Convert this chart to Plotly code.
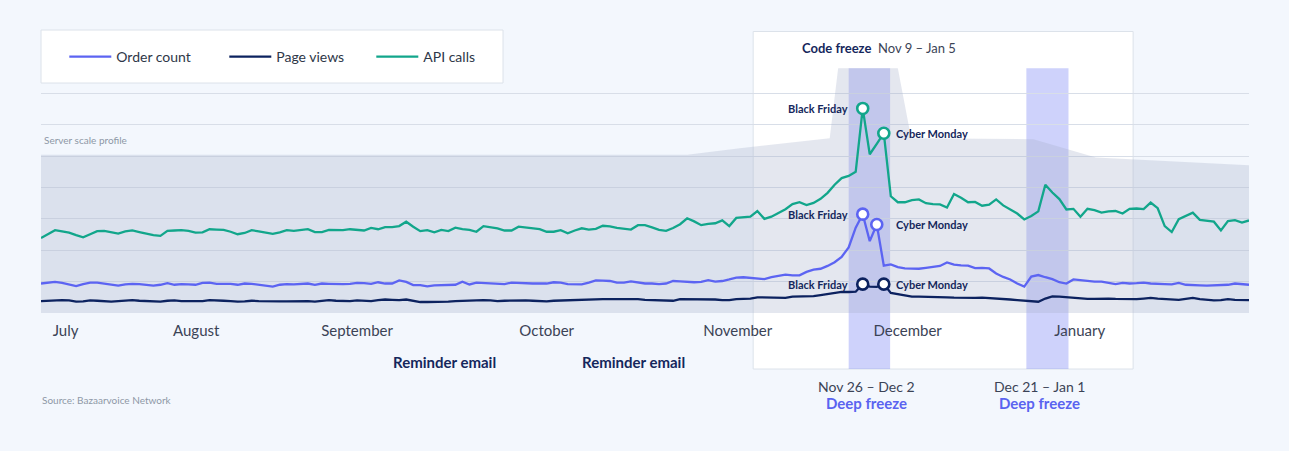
import plotly.graph_objects as go

# ---------------- data ----------------
days = list(range(173))

api_calls = [
    23.9, 25.1, 26.4, 26.0, 25.6, 24.8, 24.1, 25.1, 26.1, 26.2,
    25.7, 25.3, 26.0, 26.3, 25.8, 25.3, 24.8, 24.6, 26.2, 26.3,
    26.4, 26.2, 25.6, 25.7, 26.7, 26.6, 26.5, 25.9, 25.1, 25.5,
    26.4, 26.0, 25.6, 25.2, 25.7, 26.4, 26.2, 26.5, 26.7, 25.8,
    25.8, 26.5, 26.5, 26.4, 26.7, 26.4, 26.3, 27.1, 26.7, 27.4,
    27.4, 27.7, 29.1, 27.5, 26.1, 26.4, 25.7, 26.5, 26.1, 27.2,
    26.7, 26.5, 25.9, 27.7, 27.3, 27.0, 26.3, 26.3, 27.5, 27.3,
    26.9, 26.7, 25.9, 25.9, 26.4, 25.4, 26.3, 27.0, 26.6, 26.8,
    27.8, 27.6, 27.1, 26.8, 26.6, 28.0, 28.0, 27.3, 26.5, 26.2,
    27.1, 28.3, 30.2, 29.2, 28.0, 28.4, 28.6, 29.5, 27.7, 30.3,
    30.6, 30.7, 32.5, 30.0, 30.7, 31.8, 33.1, 34.7, 35.3, 34.4,
    35.1, 36.4, 38.3, 40.9, 43.0, 43.7, 45.0, 65.2, 50.6, 53.9,
    57.3, 37.2, 35.3, 35.3, 36.0, 36.2, 35.0, 34.7, 34.6, 33.6,
    37.9, 36.7, 35.3, 35.4, 34.2, 34.5, 36.2, 34.3, 32.9, 31.7,
    29.8, 30.9, 32.4, 40.9, 38.4, 36.3, 33.0, 33.2, 30.7, 33.2,
    32.8, 32.0, 32.4, 32.5, 31.7, 33.2, 33.3, 33.1, 35.2, 33.4,
    27.7, 25.8, 29.9, 30.9, 32.0, 29.7, 29.3, 29.1, 26.3, 29.3,
    29.6, 28.8, 29.5,
]

order_count = [
    9.4, 9.7, 9.9, 9.6, 9.2, 8.6, 9.2, 9.7, 9.7, 9.4,
    8.9, 8.7, 9.1, 9.3, 9.2, 9.0, 8.7, 9.0, 9.5, 9.0,
    9.2, 9.1, 9.0, 9.6, 9.7, 9.3, 9.4, 9.3, 9.0, 9.4,
    9.3, 9.0, 8.7, 8.4, 9.0, 9.2, 9.1, 9.3, 9.4, 9.0,
    9.4, 9.3, 9.2, 9.2, 9.3, 9.6, 9.5, 9.3, 9.8, 9.4,
    9.4, 10.4, 9.9, 8.9, 8.9, 8.5, 8.8, 8.9, 8.9, 9.0,
    10.0, 9.1, 9.7, 9.6, 9.4, 9.3, 9.2, 9.7, 9.6, 9.3,
    9.4, 9.4, 9.4, 9.8, 9.7, 9.2, 9.2, 9.1, 9.7, 10.4,
    10.3, 10.2, 9.7, 9.7, 10.1, 9.8, 9.4, 9.4, 9.2, 9.4,
    10.2, 10.1, 9.9, 9.8, 9.9, 10.5, 10.0, 10.2, 10.7, 11.3,
    11.4, 11.2, 10.9, 10.8, 11.4, 11.9, 12.2, 12.0, 12.0, 13.1,
    13.8, 14.1, 15.0, 16.2, 17.9, 20.9, 27.2, 31.5, 22.9, 28.2,
    15.1, 15.5, 14.6, 14.2, 14.1, 14.1, 14.4, 14.6, 15.0, 16.1,
    15.4, 15.2, 15.1, 14.3, 14.4, 14.2, 12.6, 11.5, 10.7, 9.4,
    8.4, 11.6, 12.1, 11.4, 10.8, 9.8, 9.4, 10.7, 10.4, 10.1,
    10.0, 10.0, 9.7, 9.2, 9.6, 9.4, 9.5, 9.7, 9.4, 9.2,
    9.2, 9.1, 9.6, 9.0, 8.8, 8.8, 8.7, 8.8, 9.0, 9.0,
    9.4, 9.1, 9.0,
]

page_views = [
    3.8, 3.9, 4.1, 4.1, 4.0, 3.6, 3.7, 4.0, 3.9, 3.7,
    3.6, 3.8, 4.0, 4.1, 3.9, 3.8, 3.7, 3.6, 3.9, 4.0,
    3.8, 3.8, 3.7, 3.8, 4.1, 3.9, 3.9, 3.8, 3.6, 3.7,
    3.9, 3.8, 3.7, 3.6, 3.7, 3.7, 3.8, 3.9, 3.8, 3.6,
    3.9, 4.1, 3.9, 3.8, 3.8, 4.0, 3.9, 3.8, 4.1, 4.3,
    4.2, 4.1, 4.3, 4.0, 3.5, 3.5, 3.5, 3.5, 3.6, 3.8,
    3.9, 4.0, 4.1, 4.1, 4.0, 3.8, 3.9, 4.0, 4.1, 4.0,
    3.9, 3.8, 3.7, 3.9, 4.0, 4.1, 4.2, 4.2, 4.3, 4.3,
    4.4, 4.4, 4.4, 4.5, 4.5, 4.4, 4.2, 4.1, 4.0, 4.0,
    3.9, 4.4, 4.4, 4.3, 4.2, 4.3, 4.3, 4.1, 4.1, 4.4,
    4.5, 4.6, 5.0, 4.9, 4.8, 4.7, 4.8, 5.2, 5.2, 5.4,
    5.4, 5.7, 6.0, 6.2, 6.7, 6.7, 6.8, 9.2, 8.4, 8.3,
    9.2, 6.4, 6.0, 5.5, 5.2, 5.2, 5.2, 5.2, 5.2, 5.0,
    4.9, 4.8, 4.8, 4.8, 4.9, 4.8, 4.7, 4.5, 4.3, 4.1,
    3.9, 3.7, 3.6, 4.6, 5.3, 5.2, 5.0, 4.9, 4.7, 4.5,
    4.5, 4.6, 4.6, 4.5, 4.4, 4.4, 4.4, 4.6, 4.8, 4.6,
    4.4, 4.3, 4.2, 4.5, 4.8, 4.4, 4.1, 4.0, 4.1, 4.4,
    4.2, 4.1, 4.1,
]

# server scale profile (capacity envelope)
profile_days = [0, 92, 99.5, 112.3, 113.5, 122, 123.9, 141.3, 150.2, 172]
profile_level = [50.4, 50.4, 52.5, 55.7, 78.0, 78.0, 55.7, 55.4, 49.6, 47.1]

month_ticks = [3.5, 22.1, 45.0, 72.0, 99.2, 123.4, 147.9]
month_labels = ["July", "August", "September", "October", "November", "December", "January"]

code_freeze = [101.4, 155.5]
code_freeze_title_day = 108.0
deep_freeze_windows = [[115.0, 120.9], [140.3, 146.3]]
deep_freeze_label_days = [117.5, 142.2]
deep_freeze_dates = ["Nov 26 \u2013 Dec 2", "Dec 21 \u2013 Jan 1"]
reminder_days = [57.4, 84.4]

black_friday = 117
cyber_monday = {"API calls": 120, "Order count": 119, "Page views": 120}

# ---------------- style ----------------
FONT = "Lato, 'Open Sans', Arial, sans-serif"
BG = "#F3F7FD"
GRID = "#D8DEE8"
GREEN = "#12A68B"
PURPLE = "#5C64F2"
NAVY = "#0C225F"
LABEL_NAVY = "#15275C"
TEXT = "#3B4356"
BAND = "rgba(80,95,242,0.28)"

H_PLOT = 251.0
PX_BOTTOM = 313.0


def py(pixel_y):
    return (PX_BOTTOM - pixel_y) / H_PLOT


fig = go.Figure()

fig.add_trace(go.Scatter(
    x=profile_days, y=profile_level, mode="lines", line=dict(width=0),
    fill="tozeroy", fillcolor="rgba(166,177,203,0.30)",
    showlegend=False, hoverinfo="skip"))

series = [
    ("Order count", order_count, PURPLE, 103),
    ("Page views", page_views, NAVY, 90),
    ("API calls", api_calls, GREEN, 50),
]
for name, vals, color, lw in series:
    fig.add_trace(go.Scatter(
        x=days, y=vals, name=name, mode="lines",
        line=dict(color=color, width=2.3), legendwidth=lw))

annotations = []
for name, vals, color, _ in series:
    cm = cyber_monday[name]
    fig.add_trace(go.Scatter(
        x=[black_friday, cm], y=[vals[black_friday], vals[cm]], mode="markers",
        marker=dict(size=11, color="white", line=dict(color=color, width=2.6)),
        showlegend=False, hoverinfo="skip"))
    annotations.append(dict(
        x=black_friday, y=vals[black_friday], xref="x", yref="y",
        text="Black Friday", showarrow=False, xanchor="right", yanchor="middle",
        xshift=-13, font=dict(family=FONT, size=11, color=LABEL_NAVY, weight=700)))
    annotations.append(dict(
        x=cm, y=vals[cm], xref="x", yref="y",
        text="Cyber Monday", showarrow=False, xanchor="left", yanchor="middle",
        xshift=10 + (120 - cm) * 7, font=dict(family=FONT, size=11, color=LABEL_NAVY, weight=700)))

annotations.append(dict(
    x=0.0008, y=py(140), xref="paper", yref="paper", text="Server scale profile",
    showarrow=False, xanchor="left", yanchor="middle",
    font=dict(family=FONT, size=10, color="#8E97A6")))
annotations.append(dict(
    x=code_freeze_title_day, y=py(48), xref="x", yref="paper",
    text="<b>Code freeze</b>  <span style='color:#3B4356'>Nov 9 \u2013 Jan 5</span>",
    showarrow=False, xanchor="left", yanchor="middle",
    font=dict(family=FONT, size=13, color=LABEL_NAVY)))
for d in reminder_days:
    annotations.append(dict(
        x=d, y=py(362), xref="x", yref="paper", text="Reminder email",
        showarrow=False, xanchor="center", yanchor="middle",
        font=dict(family=FONT, size=15, color=LABEL_NAVY, weight=700)))
for d, lbl in zip(deep_freeze_label_days, deep_freeze_dates):
    annotations.append(dict(
        x=d, y=py(386.5), xref="x", yref="paper", text=lbl,
        showarrow=False, xanchor="center", yanchor="middle",
        font=dict(family=FONT, size=14, color=TEXT)))
    annotations.append(dict(
        x=d, y=py(402.5), xref="x", yref="paper", text="Deep freeze",
        showarrow=False, xanchor="center", yanchor="middle",
        font=dict(family=FONT, size=15, color="#5A63F0", weight=700)))
annotations.append(dict(
    x=-0.0008, y=py(400), xref="paper", yref="paper", text="Source: Bazaarvoice Network",
    showarrow=False, xanchor="left", yanchor="middle",
    font=dict(family=FONT, size=10, color="#8E97A6")))

shapes = [dict(
    type="rect", xref="x", yref="paper", x0=code_freeze[0], x1=code_freeze[1],
    y0=py(369), y1=py(31.5), fillcolor="white",
    line=dict(color="#DCE2EA", width=1), layer="between")]
for a, b in deep_freeze_windows:
    shapes.append(dict(
        type="rect", xref="x", yref="paper", x0=a, x1=b, y0=py(369), y1=py(68.3),
        fillcolor=BAND, line=dict(width=0), layer="between"))
shapes.append(dict(
    type="rect", xref="paper", yref="paper", x0=0, x1=(503 - 41) / 1208.0,
    y0=py(83), y1=py(30), fillcolor="white",
    line=dict(color="#DCE2EA", width=1), layer="above"))

fig.update_layout(
    width=1289, height=451,
    margin=dict(l=41, r=40, t=62, b=138),
    paper_bgcolor=BG, plot_bgcolor=BG,
    font=dict(family=FONT, color=TEXT),
    xaxis=dict(range=[0, 172], tickvals=month_ticks, ticktext=month_labels,
               showgrid=False, zeroline=False, ticks="outside", ticklen=4,
               tickcolor="rgba(0,0,0,0)", tickfont=dict(family=FONT, size=15, color=TEXT),
               showline=False, fixedrange=True),
    yaxis=dict(range=[0, 80], tickvals=[0, 10, 20, 30, 40, 50, 60, 70],
               showticklabels=False, gridcolor=GRID, gridwidth=1, zeroline=False,
               fixedrange=True),
    legend=dict(orientation="h", x=(64.3 - 41) / 1208.0, y=py(57), xanchor="left",
                yanchor="middle", bgcolor="rgba(0,0,0,0)", borderwidth=0,
                itemwidth=42,
                font=dict(family=FONT, size=14, color="#2E3748")),
    shapes=shapes,
    annotations=annotations,
    hovermode=False,
)

fig.write_html("out.html")
